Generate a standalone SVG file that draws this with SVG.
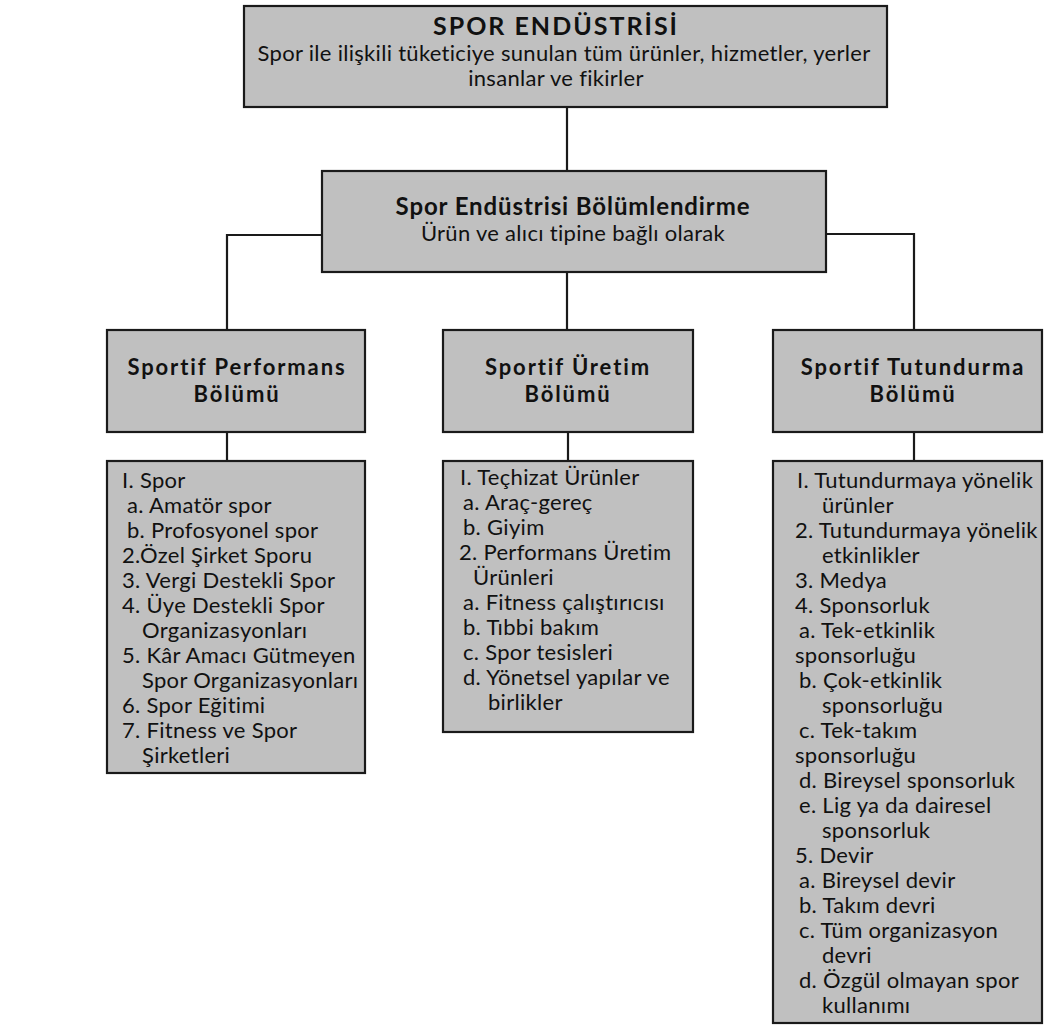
<svg xmlns="http://www.w3.org/2000/svg" width="1045" height="1028" viewBox="0 0 1045 1028">
<style>
.box{fill:#c0c0c0;stroke:#1a1a1a;stroke-width:2.2}
.con{fill:none;stroke:#1a1a1a;stroke-width:2.2}
text{font-family:Lato,"Liberation Sans",sans-serif;fill:#111}
.t{font-weight:bold;font-size:25px;letter-spacing:2px;text-anchor:middle}
.t2{font-weight:bold;font-size:24px;letter-spacing:0.9px;text-anchor:middle}
.s{font-size:22px;letter-spacing:0.3px;text-anchor:middle}
.h{font-weight:bold;font-size:22px;letter-spacing:1.9px;text-anchor:middle}
.l{font-size:22px;letter-spacing:0.3px}
</style>
<rect width="1045" height="1028" fill="#fff"/>
<g id="connectors">
<path class="con" d="M567,107V171"/>
<path class="con" d="M322,235H227V330"/>
<path class="con" d="M826,234H914V331"/>
<path class="con" d="M567,272V330"/>
<path class="con" d="M227,432V461"/>
<path class="con" d="M568,432V461"/>
<path class="con" d="M914,432V461"/>
</g>
<g id="spor-endustrisi">
<rect class="box" x="244" y="6" width="643" height="101"/>
<text class="t" x="556" y="35">SPOR ENDÜSTRİSİ</text>
<text class="s" x="564" y="61">Spor ile ilişkili tüketiciye sunulan tüm ürünler, hizmetler, yerler</text>
<text class="s" x="556" y="86">insanlar ve fikirler</text>
</g>
<g id="bolumlendirme">
<rect class="box" x="322" y="171" width="504" height="101"/>
<text class="t2" x="573" y="215">Spor Endüstrisi Bölümlendirme</text>
<text class="s" x="573" y="241">Ürün ve alıcı tipine bağlı olarak</text>
</g>
<g id="performans">
<rect class="box" x="107" y="330" width="258" height="102"/>
<text class="h" x="237" y="375">Sportif Performans</text>
<text class="h" x="237" y="402">Bölümü</text>
</g>
<g id="uretim">
<rect class="box" x="443" y="330" width="250" height="102"/>
<text class="h" x="568" y="375">Sportif Üretim</text>
<text class="h" x="568" y="402">Bölümü</text>
</g>
<g id="tutundurma">
<rect class="box" x="773" y="330" width="269" height="102"/>
<text class="h" x="913" y="375">Sportif Tutundurma</text>
<text class="h" x="913" y="402">Bölümü</text>
</g>
<g id="performans-list">
<rect class="box" x="107" y="461" width="258" height="312"/>
<text class="l">
<tspan x="122" y="488">I. Spor</tspan>
<tspan x="127" y="513">a. Amatör spor</tspan>
<tspan x="127" y="538">b. Profosyonel spor</tspan>
<tspan x="122" y="563">2.Özel Şirket Sporu</tspan>
<tspan x="122" y="588">3. Vergi Destekli Spor</tspan>
<tspan x="122" y="613">4. Üye Destekli Spor</tspan>
<tspan x="142" y="638">Organizasyonları</tspan>
<tspan x="122" y="663">5. Kâr Amacı Gütmeyen</tspan>
<tspan x="142" y="688">Spor Organizasyonları</tspan>
<tspan x="122" y="713">6. Spor Eğitimi</tspan>
<tspan x="122" y="738">7. Fitness ve Spor</tspan>
<tspan x="142" y="763">Şirketleri</tspan>
</text>
</g>
<g id="uretim-list">
<rect class="box" x="443" y="461" width="250" height="271"/>
<text class="l">
<tspan x="460" y="485">I. Teçhizat Ürünler</tspan>
<tspan x="463" y="510">a. Araç-gereç</tspan>
<tspan x="463" y="535">b. Giyim</tspan>
<tspan x="459" y="560">2. Performans Üretim</tspan>
<tspan x="473" y="585">Ürünleri</tspan>
<tspan x="463" y="610">a. Fitness çalıştırıcısı</tspan>
<tspan x="463" y="635">b. Tıbbi bakım</tspan>
<tspan x="463" y="660">c. Spor tesisleri</tspan>
<tspan x="463" y="685">d. Yönetsel yapılar ve</tspan>
<tspan x="488" y="710">birlikler</tspan>
</text>
</g>
<g id="tutundurma-list">
<rect class="box" x="773" y="461" width="269" height="562"/>
<text class="l">
<tspan x="797" y="488">I. Tutundurmaya yönelik</tspan>
<tspan x="822" y="513">ürünler</tspan>
<tspan x="795" y="538">2. Tutundurmaya yönelik</tspan>
<tspan x="822" y="563">etkinlikler</tspan>
<tspan x="795" y="588">3. Medya</tspan>
<tspan x="795" y="613">4. Sponsorluk</tspan>
<tspan x="799" y="638">a. Tek-etkinlik</tspan>
<tspan x="795" y="663">sponsorluğu</tspan>
<tspan x="799" y="688">b. Çok-etkinlik</tspan>
<tspan x="822" y="713">sponsorluğu</tspan>
<tspan x="799" y="738">c. Tek-takım</tspan>
<tspan x="795" y="763">sponsorluğu</tspan>
<tspan x="799" y="788">d. Bireysel sponsorluk</tspan>
<tspan x="799" y="813">e. Lig ya da dairesel</tspan>
<tspan x="822" y="838">sponsorluk</tspan>
<tspan x="795" y="863">5. Devir</tspan>
<tspan x="799" y="888">a. Bireysel devir</tspan>
<tspan x="799" y="913">b. Takım devri</tspan>
<tspan x="799" y="938">c. Tüm organizasyon</tspan>
<tspan x="822" y="963">devri</tspan>
<tspan x="799" y="988">d. Özgül olmayan spor</tspan>
<tspan x="822" y="1013">kullanımı</tspan>
</text>
</g>
</svg>
